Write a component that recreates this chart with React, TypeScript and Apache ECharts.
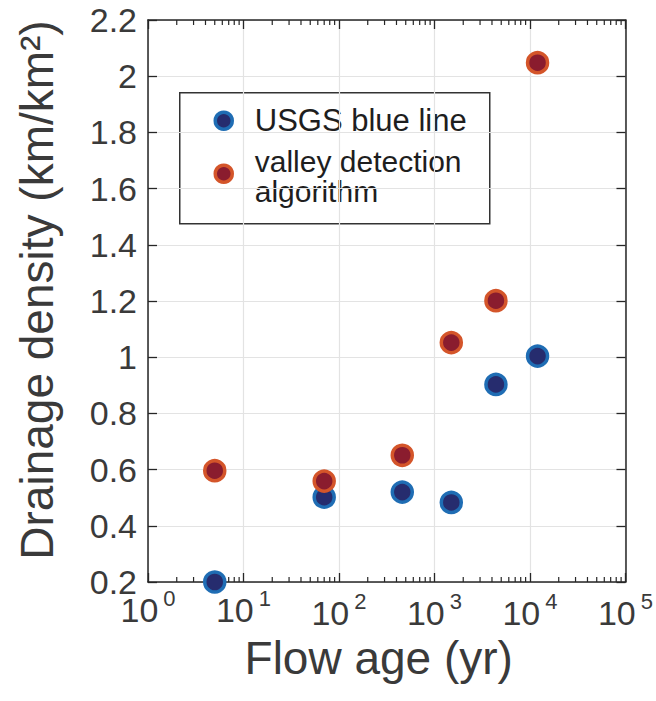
import React, { useEffect, useRef } from "react";
import * as echarts from "echarts";

const flowAge = [5, 70, 460, 1500, 4400, 12000];
const usgsBlueLine = [0.2, 0.502, 0.52, 0.483, 0.903, 1.004];
const valleyDetection = [0.596, 0.559, 0.651, 1.052, 1.201, 2.048];
const xDecades = [1, 10, 100, 1000, 10000, 100000];
const minorMultipliers = [2, 3, 4, 5, 6, 7, 8, 9];
const yMin = 0.2;
const yMax = 2.2;
const yStep = 0.2;
const seriesNames = ["USGS blue line", "valley detection\nalgorithm"];

const FONT = "'Liberation Sans', Arial, Helvetica, sans-serif";
const AXIS_COLOR = "#262626";
const LABEL_COLOR = "#3a3a3a";

const minorTicks: number[] = [];
xDecades.slice(0, -1).forEach((d) => minorMultipliers.forEach((m) => minorTicks.push(d * m)));

const rich = {
  b: { fontSize: 34, fontFamily: FONT, color: LABEL_COLOR, lineHeight: 40, verticalAlign: "bottom" },
  s: { fontSize: 22, fontFamily: FONT, color: LABEL_COLOR, lineHeight: 22, verticalAlign: "top", padding: [0, 0, 0, 5] },
};

const expLabel = (v: number) => {
  const e = Math.round(Math.log10(v));
  return `{b|10}{s|${e}}`;
};

export default function App() {
  const ref = useRef<HTMLDivElement>(null);
  useEffect(() => {
    if (!ref.current) return;
    const chart = echarts.init(ref.current, undefined, { renderer: "svg" });
    const grid = { left: 148, top: 20, right: 28, bottom: 119 };
    const logAxisBase = {
      type: "log" as const,
      logBase: 10,
      min: xDecades[0],
      max: xDecades[xDecades.length - 1],
    };
    chart.setOption({
      animation: false,
      backgroundColor: "#ffffff",
      grid,
      xAxis: [
        {
          ...logAxisBase,
          position: "bottom",
          name: "Flow age (yr)",
          nameLocation: "middle",
          nameGap: 35,
          nameTextStyle: { fontSize: 46, fontFamily: FONT, color: LABEL_COLOR, padding: [0, 16, 0, 0] },
          axisLine: { show: true, lineStyle: { color: AXIS_COLOR, width: 1.5 } },
          axisTick: { show: true, inside: true, length: 9, lineStyle: { color: AXIS_COLOR, width: 1.3 } },
          axisLabel: {
            margin: 8,
            formatter: (v: number) => (v >= 100 ? expLabel(v) : ""),
            rich,
          },
          splitLine: { show: true, lineStyle: { color: "#e3e3e3", width: 1.2 } },
        },
        {
          ...logAxisBase,
          position: "bottom",
          axisLine: { show: false },
          axisTick: { show: false },
          splitLine: { show: false },
          axisLabel: {
            margin: 5,
            formatter: (v: number) => (v < 100 ? expLabel(v) : ""),
            rich,
          },
        },
        {
          ...logAxisBase,
          position: "top",
          axisLine: { show: true, lineStyle: { color: AXIS_COLOR, width: 1.5 } },
          axisTick: { show: true, inside: true, length: 9, lineStyle: { color: AXIS_COLOR, width: 1.3 } },
          axisLabel: { show: false },
          splitLine: { show: false },
        },
      ],
      yAxis: [
        {
          type: "value",
          min: yMin,
          max: yMax,
          interval: yStep,
          position: "left",
          name: "Drainage density (km/km²)",
          nameLocation: "middle",
          nameGap: 88,
          nameTextStyle: { fontSize: 46, fontFamily: FONT, color: LABEL_COLOR, padding: [0, 0, 0, 22] },
          axisLine: { show: true, lineStyle: { color: AXIS_COLOR, width: 1.5 } },
          axisTick: { show: true, inside: true, length: 9, lineStyle: { color: AXIS_COLOR, width: 1.3 } },
          axisLabel: {
            margin: 11,
            fontSize: 34,
            lineHeight: 24,
            fontFamily: FONT,
            color: LABEL_COLOR,
            formatter: (v: number) => String(Number(v.toFixed(1))),
          },
          splitLine: { show: true, lineStyle: { color: "#e3e3e3", width: 1.2 } },
        },
        {
          type: "value",
          min: yMin,
          max: yMax,
          interval: yStep,
          position: "right",
          axisLine: { show: true, lineStyle: { color: AXIS_COLOR, width: 1.5 } },
          axisTick: { show: true, inside: true, length: 9, lineStyle: { color: AXIS_COLOR, width: 1.3 } },
          axisLabel: { show: false },
          splitLine: { show: false },
        },
      ],
      series: [
        {
          type: "custom",
          name: "minor ticks",
          silent: true,
          xAxisIndex: 0,
          yAxisIndex: 0,
          encode: { x: 0, y: 1 },
          data: minorTicks.map((v) => [v, yMin]),
          renderItem: (_params: any, api: any) => {
            const v = api.value(0);
            const b = api.coord([v, yMin]);
            const t = api.coord([v, yMax]);
            const style = { stroke: AXIS_COLOR, lineWidth: 1.2 };
            return {
              type: "group",
              children: [
                { type: "line", shape: { x1: b[0], y1: b[1], x2: b[0], y2: b[1] - 5 }, style },
                { type: "line", shape: { x1: t[0], y1: t[1], x2: t[0], y2: t[1] + 5 }, style },
              ],
            };
          },
          z: 3,
        },
        {
          type: "scatter",
          name: seriesNames[0],
          data: flowAge.map((x, i) => [x, usgsBlueLine[i]]),
          symbol: "circle",
          symbolSize: 20,
          itemStyle: { color: "#262c6e", borderColor: "#1f6db4", borderWidth: 3.5, opacity: 1 },
          clip: false,
          z: 5,
        },
        {
          type: "scatter",
          name: seriesNames[1],
          data: flowAge.map((x, i) => [x, valleyDetection[i]]),
          symbol: "circle",
          symbolSize: 20,
          itemStyle: { color: "#8a1c2e", borderColor: "#d4552a", borderWidth: 3.5, opacity: 1 },
          clip: false,
          z: 5,
        },
      ],
      graphic: [
        {
          type: "group",
          left: 179,
          top: 92,
          z: 10,
          children: [
            {
              type: "rect",
              shape: { x: 0, y: 0, width: 310, height: 131 },
              style: { fill: "#ffffff", stroke: "#333333", lineWidth: 1.5 },
            },
            {
              type: "circle",
              shape: { cx: 44, cy: 28, r: 8.5 },
              style: { fill: "#262c6e", stroke: "#1f6db4", lineWidth: 3.5 },
            },
            {
              type: "circle",
              shape: { cx: 44, cy: 81, r: 8.5 },
              style: { fill: "#8a1c2e", stroke: "#d4552a", lineWidth: 3.5 },
            },
            {
              type: "text",
              x: 75,
              y: 28,
              style: {
                text: seriesNames[0],
                fontSize: 31,
                fontFamily: FONT,
                fill: "#1e1e1e",
                verticalAlign: "middle",
              },
            },
            {
              type: "text",
              x: 75,
              y: 84,
              style: {
                text: seriesNames[1],
                fontSize: 30,
                fontFamily: FONT,
                fill: "#1e1e1e",
                verticalAlign: "middle",
                lineHeight: 30,
              },
            },
          ],
        },
      ],
    });
    return () => chart.dispose();
  }, []);
  return (
    <div
      ref={ref}
      style={{ position: "fixed", left: 0, top: 0, width: 656, height: 701, background: "#fff" }}
    />
  );
}
